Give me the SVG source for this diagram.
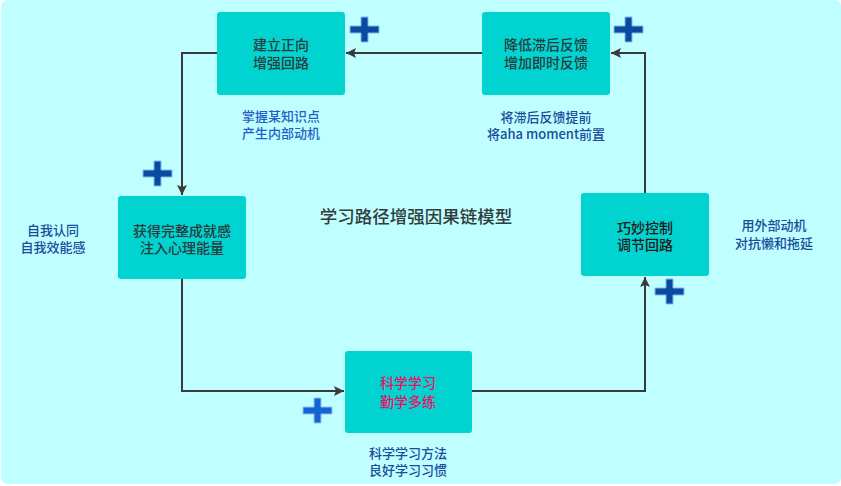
<svg xmlns="http://www.w3.org/2000/svg" width="841" height="486" viewBox="0 0 841 486">
<style>
.box{fill:#00d3d0;}
.bt{font-family:"Noto Sans CJK SC","Liberation Sans",sans-serif;font-size:14px;fill:#2b3b3b;text-anchor:middle;font-weight:500;}
.lb{font-family:"Noto Sans CJK SC","Liberation Sans",sans-serif;font-size:13px;fill:#1b4c9c;text-anchor:middle;font-weight:500;}
.lb2{fill:#1f60c8;}
.ttl{font-family:"Noto Sans CJK SC","Liberation Sans",sans-serif;font-size:17.5px;fill:#333c3c;text-anchor:middle;font-weight:500;}
.con{fill:none;stroke:#3a3a3a;stroke-width:2;}
.plus{fill:#0a4aa0;stroke:#7fb8f0;stroke-width:1;}
.plus2{fill:#1464d4;stroke:#8fc4f4;stroke-width:1;}
</style>
<defs>
<marker id="ah" viewBox="0 0 10 10" refX="10" refY="5" markerWidth="5.5" markerHeight="5" orient="auto" markerUnits="strokeWidth">
<path d="M0,0 L10,5 L0,10 L2,5 Z" fill="#3a3a3a"/>
</marker>
</defs>
<rect x="0" y="0" width="841" height="486" fill="#ffffff"/>
<rect x="1" y="0" width="840" height="484" rx="6" fill="#bfffff"/>

<g id="connectors">
<path class="con" d="M482,53 L346,53" marker-end="url(#ah)"/>
<path class="con" d="M217,53 L182,53 L182,195" marker-end="url(#ah)"/>
<path class="con" d="M182,279 L182,391 L344,391" marker-end="url(#ah)"/>
<path class="con" d="M472,391 L645,391 L645,277" marker-end="url(#ah)"/>
<path class="con" d="M645,193 L645,53 L611,53" marker-end="url(#ah)"/>
</g>

<g id="node-1">
<rect class="box" x="217" y="12" width="128" height="83" rx="3"/>
<text class="bt" x="281" y="50">建立正向</text>
<text class="bt" x="281" y="68">增强回路</text>
</g>
<g id="node-2">
<rect class="box" x="482" y="12" width="128" height="83" rx="3"/>
<text class="bt" x="546" y="50">降低滞后反馈</text>
<text class="bt" x="546" y="68">增加即时反馈</text>
</g>
<g id="node-3">
<rect class="box" x="118" y="196" width="128" height="83" rx="3"/>
<text class="bt" x="182" y="236">获得完整成就感</text>
<text class="bt" x="182" y="253">注入心理能量</text>
</g>
<g id="node-4">
<rect class="box" x="581" y="193" width="128" height="83" rx="3"/>
<text class="bt" x="645" y="233" style="fill:#241818">巧妙控制</text>
<text class="bt" x="645" y="250" style="fill:#241818">调节回路</text>
</g>
<g id="node-5">
<rect class="box" x="345" y="351" width="127" height="82" rx="3"/>
<text class="bt" x="408" y="388" style="fill:#e2156c">科学学习</text>
<text class="bt" x="408" y="407" style="fill:#e2156c">勤学多练</text>
</g>

<g id="labels">
<text class="lb lb2" x="281" y="121">掌握某知识点</text>
<text class="lb lb2" x="281" y="138">产生内部动机</text>
<text class="lb" x="546" y="122">将滞后反馈提前</text>
<text class="lb" x="546" y="139">将aha moment前置</text>
<text class="lb" x="53" y="235">自我认同</text>
<text class="lb" x="53" y="252">自我效能感</text>
<text class="lb" x="774" y="230">用外部动机</text>
<text class="lb" x="774" y="248">对抗懒和拖延</text>
<text class="lb" x="408" y="458">科学学习方法</text>
<text class="lb" x="408" y="475">良好学习习惯</text>
<text class="ttl" x="416" y="223">学习路径增强因果链模型</text>
</g>

<g id="plus-signs">
<path class="plus" d="M361,17 h7 v9 h11 v7 h-11 v9 h-7 v-9 h-11 v-7 h11 Z"/>
<path class="plus" d="M625,17 h7 v9 h11 v7 h-11 v9 h-7 v-9 h-11 v-7 h11 Z"/>
<path class="plus" d="M154,161 h7 v9 h11 v7 h-11 v9 h-7 v-9 h-11 v-7 h11 Z"/>
<path class="plus" d="M666,279 h7 v9 h11 v7 h-11 v9 h-7 v-9 h-11 v-7 h11 Z"/>
<path class="plus2" d="M314,398 h7 v9 h11 v7 h-11 v9 h-7 v-9 h-11 v-7 h11 Z"/>
</g>
</svg>
